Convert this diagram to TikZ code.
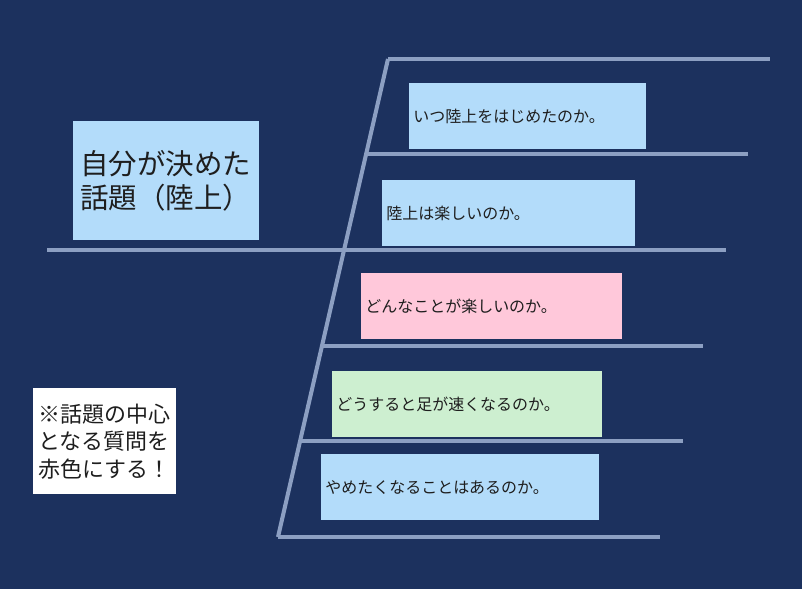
\documentclass[tikz,border=0pt]{standalone}
\usepackage{fontspec}
\setmainfont{Noto Sans CJK JP}
\usetikzlibrary{positioning}
\definecolor{bgnavy}{HTML}{1C315E}
\definecolor{linec}{HTML}{8C9FC2}
\definecolor{qblue}{HTML}{B3DCFA}
\definecolor{qpink}{HTML}{FFC8DA}
\definecolor{qgreen}{HTML}{CDEFD0}
\definecolor{textc}{HTML}{1E1E1E}
\tikzset{
  qbox/.style={anchor=north west,inner xsep=0.08cm,inner ysep=0pt,minimum height=1.32cm,align=left,text=textc,font=\fontsize{9.1}{11}\selectfont},
  bone/.style={draw=linec,line width=2.3pt}
}
\begin{document}
\begin{tikzpicture}[x=0.02cm,y=-0.02cm]
\fill[bgnavy](0,0)rectangle(802,589);
% spine and branches
\coordinate(top)at(388,59);
\coordinate(bot)at(278,537);
\draw[bone](top)--(bot);
\foreach\xa/\ya/\xb in{388/59/770,366/154/748,47/250/726,322/346/703,300/441/683,278/537/660}\draw[bone](\xa,\ya)--(\xb,\ya);
% topic
\node[anchor=north west,fill=qblue,inner xsep=0.14cm,inner ysep=0pt,minimum height=2.38cm,text width=3.44cm,align=left,text=textc,font=\fontsize{16.2}{19}\selectfont](topic)at(73,121){自分が決めた\\話題（陸上）};
% questions
\node[qbox,fill=qblue,text width=4.58cm](q1)at(409,83){いつ陸上をはじめたのか。};
\node[qbox,fill=qblue,text width=4.90cm](q2)at(382,180){陸上は楽しいのか。};
\node[qbox,fill=qpink,text width=5.06cm](q3)at(361,273){どんなことが楽しいのか。};
\node[qbox,fill=qgreen,text width=5.24cm](q4)at(332,371){どうすると足が速くなるのか。};
\node[qbox,fill=qblue,text width=5.40cm](q5)at(321,454){やめたくなることはあるのか。};
% note
\node[anchor=north west,fill=white,inner xsep=0.1cm,inner ysep=0pt,minimum height=2.12cm,text width=2.66cm,align=left,text=textc,font=\fontsize{12.5}{15.6}\selectfont](note)at(33,388){※話題の中心\\となる質問を\\赤色にする！};
\end{tikzpicture}
\end{document}
